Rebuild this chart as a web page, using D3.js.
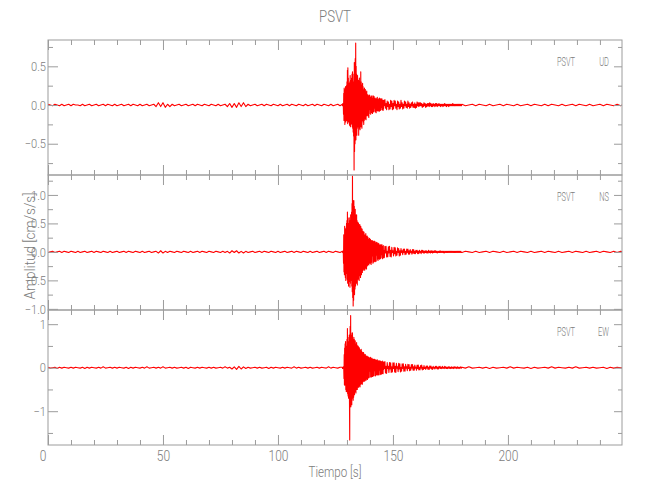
<!DOCTYPE html>
<html>
<head>
<meta charset="utf-8">
<script src="https://cdn.jsdelivr.net/npm/d3@7"></script>
<style>
  html, body { margin: 0; padding: 0; background: #fff; }
  svg { display: block; }
  text { font-family: Roboto, "DejaVu Sans", sans-serif; font-weight: 300; fill: #7c7c7c; }
</style>
</head>
<body>
<svg id="chart" width="650" height="500"></svg>
<script>
// ---------------- DATA (values in 0.01 cm/s/s) ----------------
const title = "PSVT";
const station = "PSVT";
const components = ["UD", "NS", "EW"];
const xTicksMajor = [0, 50, 100, 150, 200];
const xTimeMax = 249.6;
const valueUnit = 0.01;

// sampling segments (start, step in s)
const preStart = 0, preStep = 1;        // 0 .. 127 s
const ev1Start = 128, ev1Step = 0.1;    // 128 .. 145.9 s
const ev2Start = 146, ev2Step = 0.25;   // 146 .. 179.75 s
const postStart = 180, postStep = 1.5;  // 180 .. s

// ---- UD ----
const udPre = [1,0,-1,1,0,-1,1,-1,0,1, -1,1,0,0,-1,1,-1,0,1,-1, 0,1,-1,0,1,-1,1,0,-1,1, -1,0,1,-1,0,1,-1,1,0,-1,
  1,-1,0,1,-1,0,1,-2,3,-2, 3,-3,1,-2,1,-1,0,1,-1,0, 1,-1,0,1,-1,1,0,-1,1,0, -1,1,0,-1,1,-1,0,1,-2,2,
  -3,2,-3,3,-2,3,-2,1,-1,0, 1,-1,0,1,-1,1,0,-1,1,0, -1,1,-1,0,1,-1,1,0,-1,1, 0,-1,1,-1,0,1,-1,1,0,-1, 1,0,-1,1,-1,0,1,-1];
const udEv1 = [
  1,-1,2,-1,1,-12,15,-20,22,-18,
  20,-25,18,-15,24,-22,12,-18,25,-20,
  30,-15,45,-24,48,-20,35,-22,28,-18,
  25,-26,30,-20,38,-28,22,-25,32,-20,
  35,-24,40,-28,43,-30,25,-35,30,-40,
  40,-84,55,-60,45,-50,60,-40,80,-45,
  50,-35,40,-39,35,-30,38,-28,30,-25,
  32,-39,28,-30,35,-25,30,-32,26,-22,
  43,-28,30,-25,26,-30,22,-20,28,-18,
  24,-22,20,-25,18,-20,22,-16,19,-18,
  20,-6,17,-19,5,-14,18,-3,14,-13,
  8,-14,13,-4,12,-16,3,-11,13,-6,
  12,-3,10,-12,4,-10,11,-2,12,-10,
  5,-11,9,-3,12,-9,2,-8,11,-4,
  9,-2,8,-9,3,-8,9,-10,2,-7,
  8,-3,10,-7,1,-8,7,-2,8,-7,
  3,-8,9,-2,8,-7,2,-6,8,-3,
  6,-1,8,-6,2,-5,6,-7,1,-5];
const udEv2 = [
  6,-1,7,-4,2,-6,5,-2,  4,-6,1,-5,6,-2,5,-6,  2,-5,6,-1,5,-4,1,-6,  5,-2,4,-5,1,-4,6,-2,
  3,-5,1,-4,5,-1,4,-3,  1,-4,5,-2,3,-4,1,-3,  3,-1,4,-3,1,-3,3,-4,  1,-3,4,-1,3,-2,3,-1,
  3,-1,2,-3,1,-2,3,-1,  2,-3,1,-2,2,-1,2,-2,  3,-1,2,-2,1,-2,2,-1,  1,-2,2,-1,2,-2,1,-1,
  2,-1,1,-2,1,-1,1,-2,  1,-1,2,-1,1,-2,1,-1,  1,-2,1,-1,1,-1,1,-1,  2,-1,1,-1,1,-1,1,-1,
  1,-1,1,-1,1,-1,1,-1];
const udPost = [1,-1,0,1,-1,1,0,-1,1,-1, 0,1,-1,1,0,-1,1,-1,0,1, -1,1,0,-1,1,-1,1,0,-1,1, -1,0,1,-1,1,0,-1,1,-1,0, 1,-1,1,0,-1,1,-1,1];

// ---- NS ----
const nsPre = [-1,0,1,-1,0,1,-1,1,0,-1, 1,0,-1,1,-1,0,1,-1,0,1, -1,1,0,-1,1,0,-1,1,-1,0, 1,-1,0,1,-1,1,0,-1,1,0,
  -1,1,-1,0,1,-1,0,1,-2,2, -2,1,-1,1,0,-1,1,0,-1,1, 0,-1,1,-1,0,1,-1,1,0,-1, 1,0,-1,1,0,-1,1,-1,1,-2,
  2,-1,2,-2,1,-2,1,-1,0,1, -1,0,1,-1,1,0,-1,1,0,-1, 1,-1,0,1,-1,0,1,-1,1,0, -1,1,0,-1,1,-1,0,1,-1,0, 1,-1,1,0,-1,1,0,-1];
const nsEv1 = [
  1,-1,1,-2,2,-20,30,-35,28,-40,
  45,-30,40,-45,35,-50,42,-38,50,-35,
  55,-48,70,-55,60,-45,50,-60,45,-52,
  60,-50,55,-62,48,-55,65,-45,58,-50,
  70,-60,85,-70,133,-80,90,-95,75,-85,
  90,-70,80,-75,70,-65,75,-60,65,-55,
  60,-55,65,-50,55,-58,50,-45,52,-48,
  50,-45,48,-50,45,-40,48,-42,40,-45,
  45,-38,42,-40,38,-35,40,-36,35,-32,
  36,-32,34,-30,35,-28,30,-32,28,-30,
  30,-28,32,-26,28,-30,26,-25,28,-24,
  26,-8,25,-22,6,-23,22,-4,24,-20,
  5,-20,22,-6,20,-22,3,-18,20,-7,
  20,-4,19,-20,6,-18,18,-3,19,-17,
  4,-16,18,-5,16,-17,2,-16,17,-6,
  15,-3,16,-13,5,-15,14,-2,15,-12,
  3,-13,12,-4,13,-12,2,-11,12,-5,
  12,-2,13,-10,3,-12,10,-1,11,-10];
const nsEv2 = [
  3,-10,10,-2,10,-9,1,-9,  9,-2,10,-8,3,-9,8,-1,  2,-7,8,-3,7,-7,1,-6,  7,-1,6,-7,2,-6,6,-1,
  2,-5,5,-1,5,-5,1,-4,  5,-1,5,-4,2,-4,4,-1,  1,-4,4,-2,4,-3,1,-3,  3,-1,3,-3,1,-3,3,-1,
  1,-3,3,-1,3,-2,1,-2,  2,-1,2,-2,1,-2,3,-1,  1,-2,2,-1,2,-2,1,-1,  2,-1,2,-1,1,-2,1,-1,
  1,-1,2,-1,1,-1,1,-1,  1,-2,1,-1,1,-1,1,-1,  1,-1,1,-1,1,-1,1,-1,  1,-1,1,-1,1,-1,1,-1,
  1,-1,1,-1,1,-1,1,-1];
const nsPost = [-1,1,0,-1,1,-1,0,1,-1,1, 0,-1,1,-1,0,1,-1,1,0,-1, 1,-1,0,1,-1,1,0,-1,1,-1, 0,1,-1,1,0,-1,1,-1,0,1, -1,1,0,-1,1,-1,1,0];

// ---- EW ----
const ewPre = [1,-1,0,1,-2,1,-1,1,0,-1, 1,-1,1,0,-1,1,-2,1,-1,1, 0,-1,1,-1,2,-1,0,1,-1,1, -1,1,0,-1,1,-2,1,-1,1,0,
  -1,1,-1,2,-1,0,1,-1,1,-1, 2,-1,0,1,-1,1,-1,0,1,-1, 1,-2,1,0,-1,1,-1,1,0,-1, 1,-1,1,-1,0,1,-1,2,-1,1,
  -3,2,-4,3,-3,2,-2,1,-1,0, 1,-1,1,-1,0,1,-2,1,-1,1, 0,-1,1,-1,1,0,-1,2,-1,1, -1,0,1,-1,1,-1,0,1,-1,1, 0,-1,2,-1,1,0,-1,1];
const ewEv1 = [
  1,-2,1,-1,2,-1,1,-25,30,-40,
  45,-35,55,-40,60,-50,45,-55,50,-45,
  65,-55,90,-60,70,-65,60,-70,55,-60,
  75,-80,-166,60,95,-70,120,-90,80,-75,
  70,-85,75,-65,80,-70,65,-75,60,-68,
  70,-60,65,-62,58,-55,62,-50,55,-58,
  55,-50,58,-48,52,-50,48,-45,50,-42,
  48,-45,44,-42,46,-40,42,-44,40,-38,
  40,-38,42,-35,38,-36,34,-38,35,-32,
  34,-32,35,-30,32,-30,30,-31,28,-29,
  30,-8,27,-29,6,-26,27,-4,26,-27,
  5,-24,25,-7,24,-23,4,-22,23,-8,
  23,-5,24,-21,6,-22,21,-3,22,-20,
  4,-20,20,-6,19,-19,3,-18,19,-7,
  19,-3,18,-19,5,-18,18,-2,17,-16,
  4,-16,18,-5,16,-17,2,-16,16,-6,
  16,-3,15,-16,4,-15,15,-2,14,-15,
  3,-14,14,-4,15,-13,2,-14,13,-4];
const ewEv2 = [
  13,-2,14,-12,3,-13,12,-2,  3,-11,12,-3,11,-11,2,-10,  11,-2,11,-10,3,-11,10,-1,  2,-9,10,-3,9,-10,1,-8,
  9,-2,9,-8,2,-8,8,-1,  2,-7,8,-2,7,-7,1,-6,  7,-1,7,-6,2,-6,6,-1,  1,-6,6,-2,6,-5,1,-5,
  5,-1,6,-5,1,-4,5,-2,  1,-4,4,-1,4,-4,1,-4,  4,-1,4,-3,1,-4,3,-1,  1,-3,3,-1,3,-3,1,-3,
  3,-1,3,-2,1,-2,3,-1,  1,-2,3,-1,2,-2,1,-2,  2,-1,2,-2,1,-2,2,-1,  1,-2,2,-1,2,-1,1,-2,
  2,-1,1,-2,1,-1,2,-1];
const ewPost = [1,-1,2,-1,0,1,-1,1,-2,1, -1,0,1,-1,2,-1,1,0,-1,1, -2,1,-1,0,1,-1,2,-1,1,0, -1,1,-1,2,-1,0,1,-1,1,-1, 0,1,-2,1,-1,1,0,-1];

// y-axis settings per component
const udDomain = [-0.904, 0.840], udMajor = [-0.5, 0, 0.5], udMinor = [-0.75, -0.25, 0.25, 0.75];
const nsDomain = [-1.02, 1.35], nsMajor = [-1, -0.5, 0, 0.5, 1], nsMinor = [-0.75, -0.25, 0.25, 0.75, 1.25];
const ewDomain = [-1.777, 1.326], ewMajor = [-1, 0, 1], ewMinor = [-1.5, -0.5, 0.5];

// ---------------- DRAW ----------------
const svg = d3.select("#chart");
const axisColor = "#9c9c9c";
const left = 48, right = 622;
const panelTops = [40, 175, 310];
const panelH = 135;

const x = d3.scaleLinear().domain([0, xTimeMax]).range([left, right]);

function buildSeries(pre, ev1, ev2, post) {
  const pts = [];
  pre.forEach((v, i) => pts.push([preStart + i * preStep, v * valueUnit]));
  ev1.forEach((v, i) => pts.push([ev1Start + i * ev1Step, v * valueUnit]));
  ev2.forEach((v, i) => pts.push([ev2Start + i * ev2Step, v * valueUnit]));
  post.forEach((v, i) => pts.push([postStart + i * postStep, v * valueUnit]));
  return pts;
}

const panels = [
  { comp: components[0], domain: udDomain, major: udMajor, minor: udMinor, fmt: d3.format(".1f"), data: buildSeries(udPre, udEv1, udEv2, udPost) },
  { comp: components[1], domain: nsDomain, major: nsMajor, minor: nsMinor, fmt: d3.format(".1f"), data: buildSeries(nsPre, nsEv1, nsEv2, nsPost) },
  { comp: components[2], domain: ewDomain, major: ewMajor, minor: ewMinor, fmt: d3.format("d"), data: buildSeries(ewPre, ewEv1, ewEv2, ewPost) }
];

const xMinor = d3.range(0, xTimeMax, 10).filter(v => v % 50 !== 0);

function measure(str, size) {
  const t = svg.append("text").style("font-size", size + "px").text(str);
  const L = t.node().getComputedTextLength();
  t.remove();
  return L;
}
function squeeze(sel, factor) {
  sel.each(function () {
    const L = this.getComputedTextLength();
    if (L > 0) {
      this.setAttribute("textLength", L * factor);
      this.setAttribute("lengthAdjust", "spacingAndGlyphs");
    }
  });
}
const tickSize = 13, compSize = 12.5;
const tickFactor = 15 / measure("0.5", tickSize);
const compFactor = 18 / measure("PSVT", compSize);

panels.forEach((p, k) => {
  const top = panelTops[k], bottom = top + panelH;
  const y = d3.scaleLinear().domain(p.domain).range([bottom, top]);
  const g = svg.append("g");

  const clipId = "clip" + k;
  svg.append("clipPath").attr("id", clipId).append("rect")
    .attr("x", left).attr("y", top).attr("width", right - left).attr("height", panelH);

  const line = d3.line().x(d => x(d[0])).y(d => y(d[1]));
  g.append("path").datum(p.data)
    .attr("clip-path", `url(#${clipId})`)
    .attr("d", line)
    .attr("fill", "none")
    .attr("stroke", "#ff0000")
    .attr("stroke-width", 1.1)
    .attr("stroke-linejoin", "round");

  function styleAxis(sel) {
    sel.selectAll("path.domain").remove();
    sel.selectAll("line").attr("stroke", axisColor);
    sel.selectAll("text").attr("fill", "#7c7c7c").style("font-size", tickSize + "px")
      .style("font-family", 'Roboto, "DejaVu Sans", sans-serif').style("font-weight", 300);
  }
  const lg = g.append("g").attr("transform", `translate(${left},0)`)
    .call(d3.axisLeft(y).tickValues(p.major).tickFormat(p.fmt).tickSize(-10).tickPadding(2)).call(styleAxis);
  g.append("g").attr("transform", `translate(${left},0)`)
    .call(d3.axisLeft(y).tickValues(p.minor).tickFormat("").tickSize(-5)).call(styleAxis);
  g.append("g").attr("transform", `translate(${right},0)`)
    .call(d3.axisRight(y).tickValues(p.major).tickFormat("").tickSize(-8)).call(styleAxis);
  g.append("g").attr("transform", `translate(${right},0)`)
    .call(d3.axisRight(y).tickValues(p.minor).tickFormat("").tickSize(-4)).call(styleAxis);
  const bottomAxis = d3.axisBottom(x).tickValues(xTicksMajor).tickSize(-10).tickPadding(6)
    .tickFormat(k === 2 ? d3.format("d") : "");
  const bg = g.append("g").attr("transform", `translate(0,${bottom})`).call(bottomAxis).call(styleAxis);
  bg.selectAll("text").style("font-size", "14px");
  bg.selectAll("text").filter(d => d === 0).attr("text-anchor", "end").attr("dx", "-2px");
  g.append("g").attr("transform", `translate(0,${bottom})`)
    .call(d3.axisBottom(x).tickValues(xMinor).tickFormat("").tickSize(-5)).call(styleAxis);
  g.append("g").attr("transform", `translate(0,${top})`)
    .call(d3.axisTop(x).tickValues(xTicksMajor).tickFormat("").tickSize(-10)).call(styleAxis);
  g.append("g").attr("transform", `translate(0,${top})`)
    .call(d3.axisTop(x).tickValues(xMinor).tickFormat("").tickSize(-5)).call(styleAxis);

  squeeze(lg.selectAll("text"), tickFactor);
  squeeze(bg.selectAll("text"), tickFactor);

  g.append("rect").attr("x", left).attr("y", top).attr("width", right - left).attr("height", panelH)
    .attr("fill", "none").attr("stroke", axisColor).attr("stroke-width", 1);

  const t1 = g.append("text").attr("x", 557).attr("y", top + 26).attr("text-anchor", "start")
    .style("font-size", compSize + "px").text(station);
  const t2 = g.append("text").attr("x", 609).attr("y", top + 26).attr("text-anchor", "end")
    .style("font-size", compSize + "px").text(p.comp);
  squeeze(t1, compFactor);
  squeeze(t2, compFactor);
});

const tt = svg.append("text").attr("x", (left + right) / 2).attr("y", 22).attr("text-anchor", "middle")
  .style("font-size", "16px").text(title);
tt.attr("textLength", 32).attr("lengthAdjust", "spacingAndGlyphs");

const xl = svg.append("text").attr("x", (left + right) / 2).attr("y", 477).attr("text-anchor", "middle")
  .style("font-size", "15px").text("Tiempo [s]");
xl.attr("textLength", 53).attr("lengthAdjust", "spacingAndGlyphs");

const yl = svg.append("text").attr("transform", "translate(35,246) rotate(-90)").attr("text-anchor", "middle")
  .style("font-size", "15px").text("Amplitud [cm/s/s]");
yl.attr("textLength", 107).attr("lengthAdjust", "spacingAndGlyphs");
</script>
</body>
</html>
